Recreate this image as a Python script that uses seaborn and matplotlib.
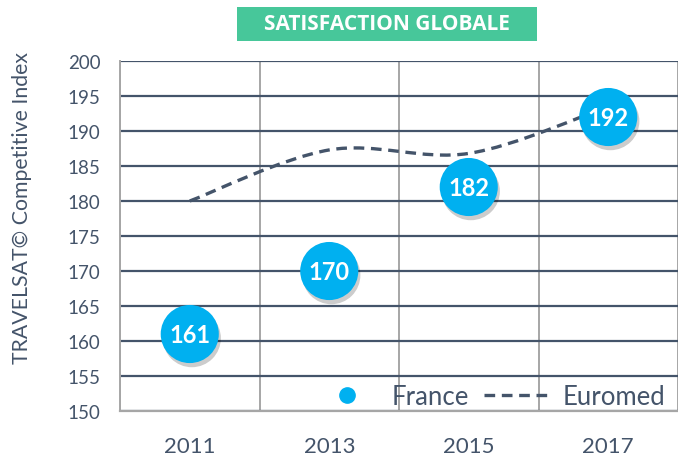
import numpy as np
import pandas as pd
import matplotlib
matplotlib.use('Agg')
import matplotlib.pyplot as plt
import matplotlib.patheffects as pe
from matplotlib.path import Path
from matplotlib.patches import PathPatch, Rectangle
from matplotlib.lines import Line2D
import seaborn as sns

years = ['2011', '2013', '2015', '2017']
france = [161, 170, 182, 192]
euromed = [180, 187.3, 186.8, 193.5]
title = 'SATISFACTION GLOBALE'
ylabel = 'TRAVELSAT© Competitive Index'

slate = '#44546A'
blue = '#00B0F0'
green = '#47C79A'

sns.set_style('white')
plt.rcParams['font.family'] = ['Lato', 'DejaVu Sans']

df = pd.DataFrame({'Year': years, 'France': france, 'Euromed': euromed})
df['pos'] = range(len(years))

fig = plt.figure(figsize=(6.78, 4.60), dpi=100)
ax = fig.add_axes([0.177, 0.1043, 0.823, 0.7609])

# smoothed Euromed line (Excel-style bezier through the points)
xs = df['pos'].to_numpy(dtype=float)
ys = df['Euromed'].to_numpy(dtype=float)
pts = np.column_stack([xs, ys])
verts = [pts[0]]
codes = [Path.MOVETO]
n = len(pts)
for i in range(n - 1):
    p_prev = pts[max(i - 1, 0)]
    p0 = pts[i]
    p1 = pts[i + 1]
    p_next = pts[min(i + 2, n - 1)]
    c1 = p0 + (p1 - p_prev) / 6
    c2 = p1 - (p_next - p0) / 6
    verts += [c1, c2, p1]
    codes += [Path.CURVE4] * 3
dash = (0, (3.2, 2.0))
patch = PathPatch(Path(verts, codes), facecolor='none', edgecolor=slate,
                  lw=2.4, linestyle=dash, zorder=3)
ax.add_patch(patch)

sns.scatterplot(data=df, x='pos', y='France', s=1750, color=blue,
                edgecolor='none', zorder=4, ax=ax, legend=False)
coll = ax.collections[-1]
coll.set_path_effects([pe.SimplePatchShadow(offset=(1.5, -3), alpha=0.2, shadow_rgbFace='black'),
                       pe.Normal()])

for x, v in zip(df['pos'], df['France']):
    ax.text(x, v, str(v), ha='center', va='center', color='white',
            fontsize=17, fontweight='bold', zorder=5)

ax.set_xlim(-0.5, 3.5)
ax.set_ylim(150, 200)
ax.set_yticks(np.arange(150, 201, 5))
ax.set_xticks(df['pos'])
ax.set_xticklabels(years)
ax.set_xticks([-0.5, 0.5, 1.5, 2.5, 3.5], minor=True)
ax.grid(axis='y', which='major', color=slate, lw=1.6)
ax.grid(axis='x', which='minor', color='#A6A6A6', lw=1.4)
ax.grid(axis='x', which='major', visible=False)
ax.set_axisbelow(True)
ax.tick_params(axis='x', which='both', length=0, pad=18, labelsize=16, labelcolor=slate)
ax.tick_params(axis='y', length=0, pad=14, labelsize=13.5, labelcolor=slate)
for s in ['top', 'right']:
    ax.spines[s].set_visible(False)
ax.spines['left'].set_color('#A6A6A6')
ax.spines['left'].set_linewidth(1.4)
ax.spines['bottom'].set_color('#A6A6A6')
ax.spines['bottom'].set_linewidth(1.6)
ax.set_xlabel('')
ax.set_ylabel(ylabel, fontsize=15.3, color=slate)
ax.yaxis.set_label_coords(-0.158, 0.583)

handles = [Line2D([], [], marker='o', color=blue, ls='none', markersize=11),
           Line2D([], [], color=slate, lw=2.4, linestyle=dash)]
ax.legend(handles, ['France', 'Euromed'], loc='lower right', frameon=False,
          ncol=2, fontsize=18.5, labelcolor=slate, handlelength=2.65,
          columnspacing=0.6, handletextpad=0.4, borderaxespad=0.1,
          bbox_to_anchor=(1.0, -0.03))

fig.patches.append(Rectangle((237 / 678, 1 - 42 / 460), 300 / 678, 34 / 460,
                             transform=fig.transFigure, facecolor=green,
                             edgecolor='none'))
fig.text(387 / 678, 1 - 25 / 460, title, ha='center', va='center',
         color='white', fontsize=15, fontweight='bold', family='Open Sans')

fig.savefig('out.png', dpi=100)
